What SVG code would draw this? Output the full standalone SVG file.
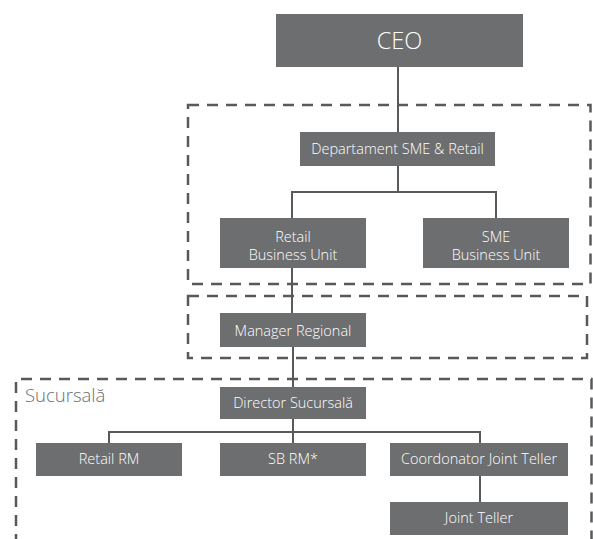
<svg xmlns="http://www.w3.org/2000/svg" width="593" height="539" viewBox="0 0 593 539">
<style>
.box{fill:#6d6e70}
.t{font-family:"Open Sans","Liberation Sans",sans-serif;font-weight:300;fill:#ffffff;text-anchor:middle;font-size:14.5px}
.dash{fill:none;stroke:#58595b;stroke-width:2.5;stroke-dasharray:11 8}
.con{fill:none;stroke:#58595b;stroke-width:2}
</style>
<rect width="593" height="539" fill="#ffffff"/>
<g id="regions">
<rect class="dash" x="188" y="105" width="402.5" height="179"/>
<rect class="dash" x="188" y="296" width="399" height="62"/>
<path class="dash" d="M16,545 V379 H591.5 V545"/>
<text x="25" y="402" style="font-family:'Open Sans','Liberation Sans',sans-serif;font-weight:300;font-size:18.5px;fill:#6d6e70">Sucursală</text>
</g>
<g id="connectors">
<path class="con" d="M398,67 V132"/>
<path class="con" d="M398,166 V192 M292,218 V192 H496 V218"/>
<path class="con" d="M292,268 V313"/>
<path class="con" d="M293,347 V387"/>
<path class="con" d="M293,419 V443 M109,443 V432 H480 V443"/>
<path class="con" d="M480,476 V502"/>
</g>
<g id="ceo"><rect class="box" x="276" y="14" width="247" height="53"/><text class="t" x="399.5" y="49" style="font-size:23.5px">CEO</text></g>
<g id="dept"><rect class="box" x="300" y="132" width="195" height="34"/><text class="t" x="397.5" y="154">Departament SME &amp; Retail</text></g>
<g id="retail-bu"><rect class="box" x="220" y="218" width="146" height="50"/><text class="t" x="293" y="241.5">Retail</text><text class="t" x="293" y="259.5">Business Unit</text></g>
<g id="sme-bu"><rect class="box" x="423" y="218" width="146" height="50"/><text class="t" x="496" y="241.5">SME</text><text class="t" x="496" y="259.5">Business Unit</text></g>
<g id="manager-regional"><rect class="box" x="220" y="313" width="146" height="34"/><text class="t" x="293" y="335.5">Manager Regional</text></g>
<g id="director"><rect class="box" x="220" y="387" width="146" height="32"/><text class="t" x="293" y="408">Director Sucursală</text></g>
<g id="retail-rm"><rect class="box" x="36" y="443" width="146" height="33"/><text class="t" x="109" y="464">Retail RM</text></g>
<g id="sb-rm"><rect class="box" x="220" y="443" width="146" height="33"/><text class="t" x="293" y="464">SB RM*</text></g>
<g id="coord"><rect class="box" x="390" y="443" width="178" height="33"/><text class="t" x="479" y="464">Coordonator Joint Teller</text></g>
<g id="joint-teller"><rect class="box" x="390" y="502" width="178" height="33"/><text class="t" x="479" y="523">Joint Teller</text></g>
</svg>
